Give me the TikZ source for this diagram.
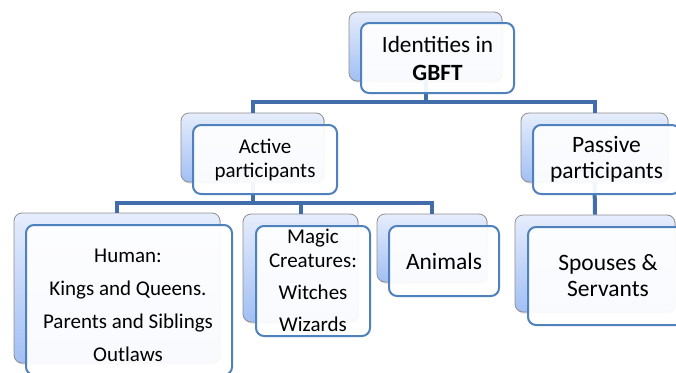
\documentclass[tikz,border=0pt]{standalone}
\usepackage{fontspec}
\setmainfont{Carlito}
\usetikzlibrary{shadows}
\definecolor{connc}{HTML}{416EAA}
\definecolor{frontline}{HTML}{4F81BD}
\definecolor{backtop}{HTML}{E6EDFC}
\definecolor{backbot}{HTML}{A2BFF4}
\definecolor{backline}{HTML}{8E8E8E}
\tikzset{
  backbox/.style={draw=backline, line width=0.8pt, rounded corners=8pt,
    top color=backtop, bottom color=backbot, inner sep=0pt,
    drop shadow={opacity=0.3, shadow xshift=1pt, shadow yshift=-1.5pt}},
  frontbox/.style={draw=frontline, line width=2pt, rounded corners=8pt,
    fill=white, fill opacity=0.93, text opacity=1, inner sep=0pt, align=center},
  conn/.style={draw=connc, line width=4pt},
  txt/.style={align=center, inner sep=0pt},
  sizeA/.style={font=\fontsize{21}{24}\selectfont},
  sizeB/.style={font=\fontsize{23.5}{25.5}\selectfont},
}
\begin{document}
\begin{tikzpicture}[x=1pt, y=-1pt]
\useasboundingbox (0,0) rectangle (676,372);
\clip (0,0) rectangle (676,372);
% back boxes
\node[backbox, minimum width=153pt, minimum height=69pt] (topb) at (425.5,46.5) {};
\node[backbox, minimum width=143pt, minimum height=69pt] (actb) at (252.5,147.5) {};
\node[backbox, minimum width=147pt, minimum height=69pt] (pasb) at (594.5,147.5) {};
\node[backbox, minimum width=206pt, minimum height=150pt] (humb) at (117,288) {};
\node[backbox, minimum width=115pt, minimum height=108pt] (magb) at (300.5,268) {};
\node[backbox, minimum width=110pt, minimum height=68pt] (anib) at (432,248) {};
\node[backbox, minimum width=160pt, minimum height=97pt] (spob) at (595,263.5) {};
% connectors
\draw[conn] (topb.south) -- ++(0,21);
\draw[conn] (actb.north) -- ++(0,-11) -| (pasb.north);
\draw[conn] (actb.south) -- ++(0,21);
\draw[conn] (humb.north) -- ++(0,-10) -| (anib.north);
\draw[conn] (magb.north) -- ++(0,-11);
\draw[conn] (pasb.south) -- (spob.north);
% front boxes
\node[frontbox, minimum width=153pt, minimum height=70pt, font=\fontsize{23.3}{28}\selectfont] (topf) at (437.5,58) {Identities in\\\textbf{GBFT}};
\node[frontbox, minimum width=144pt, minimum height=69pt, sizeA] (actf) at (265,159.5) {Active\\participants};
\node[frontbox, minimum width=147pt, minimum height=69pt, sizeB] (pasf) at (606.5,159.5) {Passive\\participants};
\node[frontbox, minimum width=206pt, minimum height=150pt] (humf) at (129,300) {};
\node[frontbox, minimum width=114pt, minimum height=110pt] (magf) at (313,281) {};
\node[frontbox, minimum width=110pt, minimum height=70pt, sizeB] (anif) at (444,261) {Animals};
\node[frontbox, minimum width=160pt, minimum height=98pt, font=\fontsize{23.5}{26}\selectfont] (spof) at (608,276) {Spouses \&\\Servants};
% texts
\node[txt, sizeA] (humt) at (128,305) {Human:\\[9pt]Kings and Queens.\\[9pt]Parents and Siblings\\[9pt]Outlaws};
\node[txt, sizeA] (magt) at (313,280.5) {Magic\\Creatures:\\[8pt]Witches\\[8pt]Wizards};
\end{tikzpicture}
\end{document}
